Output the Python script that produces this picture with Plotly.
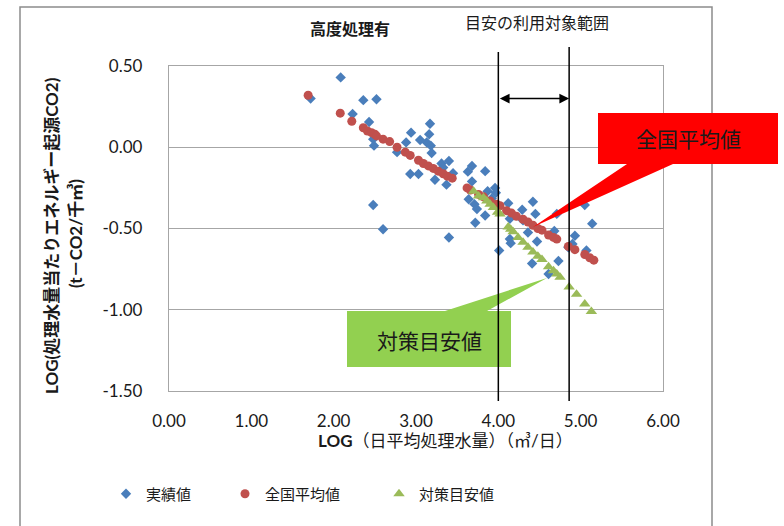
import plotly.graph_objects as go

# 実績値 (actual plants)
actual_x = [1.72, 2.085, 2.23, 2.36, 2.52, 2.43, 2.48, 2.49, 2.48, 2.60,
            2.77, 2.88, 2.94, 3.05, 3.17, 3.16, 3.13, 3.18, 3.19, 2.93,
            3.03, 3.23, 3.31, 3.33, 3.40, 3.37, 3.45, 3.40, 3.63, 3.68,
            3.84, 3.64, 3.71, 3.74, 3.72, 3.84, 3.68, 3.87, 3.96, 3.97,
            3.92, 4.01, 4.12, 4.16, 4.15, 4.29, 4.30, 4.42, 4.45, 4.36,
            4.47, 4.41, 4.73, 4.71, 4.68, 4.61, 4.93, 4.85, 4.90, 5.07,
            5.05, 5.14, 4.14, 4.14]
actual_y = [0.30, 0.43, 0.205, 0.29, 0.295, 0.155, 0.05, 0.01, -0.355, -0.505,
            -0.03, 0.03, 0.09, 0.045, 0.145, 0.08, 0.03, 0.01, -0.035, -0.165,
            -0.165, -0.20, -0.10, -0.125, -0.085, -0.23, -0.16, -0.555, -0.15, -0.115,
            -0.147, -0.32, -0.35, -0.38, -0.465, -0.42, -0.21, -0.27, -0.25, -0.28,
            -0.315, -0.635, -0.345, -0.41, -0.59, -0.385, -0.45, -0.335, -0.41, -0.525,
            -0.58, -0.715, -0.70, -0.41, -0.515, -0.78, -0.545, -0.615, -0.595, -0.635,
            -0.355, -0.47, -0.565, -0.44]

# 全国平均値 (national average)
avg_x = [1.69, 2.08, 2.22, 2.36, 2.41, 2.46, 2.50, 2.52, 2.60, 2.68,
         2.77, 2.87, 2.93, 3.03, 3.09, 3.15, 3.21, 3.27, 3.33, 3.38,
         3.44, 3.62, 3.66, 3.76, 3.82, 3.90, 3.98, 4.02, 4.10, 4.16,
         4.22, 4.30, 4.36, 4.42, 4.48, 4.53, 4.61, 4.67, 4.71, 4.85,
         4.93, 5.05, 5.11, 5.16]
avg_y = [0.32, 0.21, 0.16, 0.12, 0.10, 0.09, 0.08, 0.07, 0.05, 0.035,
         0.00, -0.03, -0.05, -0.08, -0.10, -0.115, -0.13, -0.147, -0.163, -0.178,
         -0.19, -0.25, -0.263, -0.29, -0.305, -0.33, -0.35, -0.36, -0.39, -0.405,
         -0.425, -0.443, -0.46, -0.48, -0.50, -0.51, -0.54, -0.555, -0.565, -0.61,
         -0.63, -0.66, -0.68, -0.695]

# 対策目安値 (target values)
target_x = [3.70, 3.76, 3.82, 3.86, 3.90, 3.94, 3.99, 4.02, 4.12, 4.15,
            4.18, 4.24, 4.30, 4.36, 4.42, 4.48, 4.53, 4.61, 4.67, 4.71,
            4.75, 4.86, 4.95, 5.05, 5.13]
target_y = [-0.27, -0.30, -0.31, -0.33, -0.35, -0.37, -0.40, -0.41, -0.49, -0.505,
            -0.52, -0.555, -0.585, -0.615, -0.645, -0.67, -0.69, -0.735, -0.76, -0.78,
            -0.80, -0.86, -0.905, -0.965, -1.01]

x_ticks = [0, 1, 2, 3, 4, 5, 6]
x_tick_text = ["0.00", "1.00", "2.00", "3.00", "4.00", "5.00", "6.00"]
y_ticks = [-1.5, -1.0, -0.5, 0.0, 0.5]
y_tick_text = ["-1.50", "-1.00", "-0.50", "0.00", "0.50"]

# bounds of the range where the target values apply
range_bounds = [4.0, 4.86]
range_arrow_y = 0.30

W, H = 784, 526
ML, MR, MT, MB = 169, 121, 66, 135
PW, PH = W - ML - MR, H - MT - MB


def px(xp):
    return (xp - ML) / PW


def py(yp):
    return (H - MB - yp) / PH


CJK = "Noto Sans CJK JP"
NUM = "Lato, Noto Sans CJK JP"
TXT = "#1a1a1a"

fig = go.Figure()
fig.add_trace(go.Scatter(
    x=actual_x, y=actual_y, mode="markers", name="実績値", showlegend=True,
    marker=dict(symbol="diamond", size=8, color="#4A7EBB"), legend="legend"))
fig.add_trace(go.Scatter(
    x=avg_x, y=avg_y, mode="markers", name="全国平均値", showlegend=True,
    marker=dict(symbol="circle", size=9, color="#C0504D"), legend="legend2"))
fig.add_trace(go.Scatter(
    x=target_x, y=target_y, mode="markers", name="対策目安値", showlegend=True,
    marker=dict(symbol="triangle-up", size=10, color="#9BBB59"), legend="legend3"))

grid = "#A6A6A6"
fig.update_xaxes(
    range=[0, 6], tickvals=x_ticks, ticktext=x_tick_text, showgrid=False,
    zeroline=False, showline=True, mirror=True, linecolor=grid, linewidth=1.3,
    ticks="", ticklabelstandoff=14, tickfont=dict(family=NUM, size=17, color=TXT))
fig.update_yaxes(
    range=[-1.5, 0.5], tickvals=y_ticks, ticktext=y_tick_text, showgrid=True,
    gridcolor=grid, gridwidth=1.3, zeroline=False, showline=True, mirror=True,
    linecolor=grid, linewidth=1.3, ticks="", ticklabelstandoff=22,
    tickfont=dict(family=NUM, size=17, color=TXT))

shapes = []
# outer chart frame
shapes.append(dict(type="rect", xref="paper", yref="paper",
                   x0=px(20), x1=px(712), y0=py(540), y1=py(7),
                   line=dict(color="#8C8C8C", width=1.5), layer="below"))
# callout for the national average
shapes.append(dict(
    type="path", xref="paper", yref="paper", layer="above",
    path=(f"M {px(598)},{py(113)} L {px(778)},{py(113)} L {px(778)},{py(164)} "
          f"L {px(673)},{py(164)} L {px(533)},{py(227)} L {px(627)},{py(164)} "
          f"L {px(598)},{py(164)} Z"),
    fillcolor="#FF0000", line=dict(width=0)))
# callout for the target values
shapes.append(dict(
    type="path", xref="paper", yref="paper", layer="above",
    path=(f"M {px(347)},{py(311)} L {px(445)},{py(311)} L {px(547)},{py(278)} "
          f"L {px(487)},{py(311)} L {px(511)},{py(311)} L {px(511)},{py(367)} "
          f"L {px(347)},{py(367)} Z"),
    fillcolor="#92D050", line=dict(width=0)))
# applicable range boundaries
for xb, top in zip(range_bounds, [52, 47]):
    shapes.append(dict(type="line", xref="x", yref="paper", x0=xb, x1=xb,
                       y0=py(401), y1=py(top), layer="above",
                       line=dict(color="black", width=1.5)))
fig.update_layout(shapes=shapes)


def label(x, y, text, size, angle=0, family=CJK):
    return dict(x=px(x), y=py(y), xref="paper", yref="paper", text=text,
                showarrow=False, xanchor="center", yanchor="middle",
                textangle=angle, font=dict(family=family, size=size, color=TXT))


annotations = [
    dict(x=range_bounds[1], y=range_arrow_y, ax=range_bounds[0], ay=range_arrow_y,
         xref="x", yref="y", axref="x", ayref="y", text="", showarrow=True,
         arrowside="end+start", arrowhead=2, startarrowhead=2, arrowsize=1.3,
         startarrowsize=1.3, arrowwidth=1.5, arrowcolor="black", standoff=0,
         startstandoff=0),
    label(350, 28, "<b>高度処理有</b>", 16),
    label(537, 22, "目安の利用対象範囲", 16),
    label(688, 138, "全国平均値", 21),
    label(429, 340, "対策目安値", 21),
    label(445, 440, "<b>LOG</b>（日平均処理水量）（㎥/日）", 17, family=NUM),
    label(52, 236, "<b>LOG(処理水量当たりエネルギー起源CO2)</b>", 17, -90, NUM),
    label(75, 234, "<b>(t－CO2/千㎥)</b>", 17, -90, NUM),
]
fig.update_layout(annotations=annotations)

leg_common = dict(orientation="h", yanchor="middle", xanchor="left",
                  xref="container", yref="container",
                  bgcolor="rgba(0,0,0,0)", font=dict(family=CJK, size=15, color=TXT))
leg_y = (H - 494) / H
fig.update_layout(
    width=W, height=H, showlegend=True,
    margin=dict(l=ML, r=MR, t=MT, b=MB),
    paper_bgcolor="white", plot_bgcolor="white",
    legend=dict(x=106 / W, y=leg_y, **leg_common),
    legend2=dict(x=225 / W, y=leg_y, **leg_common),
    legend3=dict(x=379 / W, y=leg_y, **leg_common),
)

fig.write_html("out.html")
